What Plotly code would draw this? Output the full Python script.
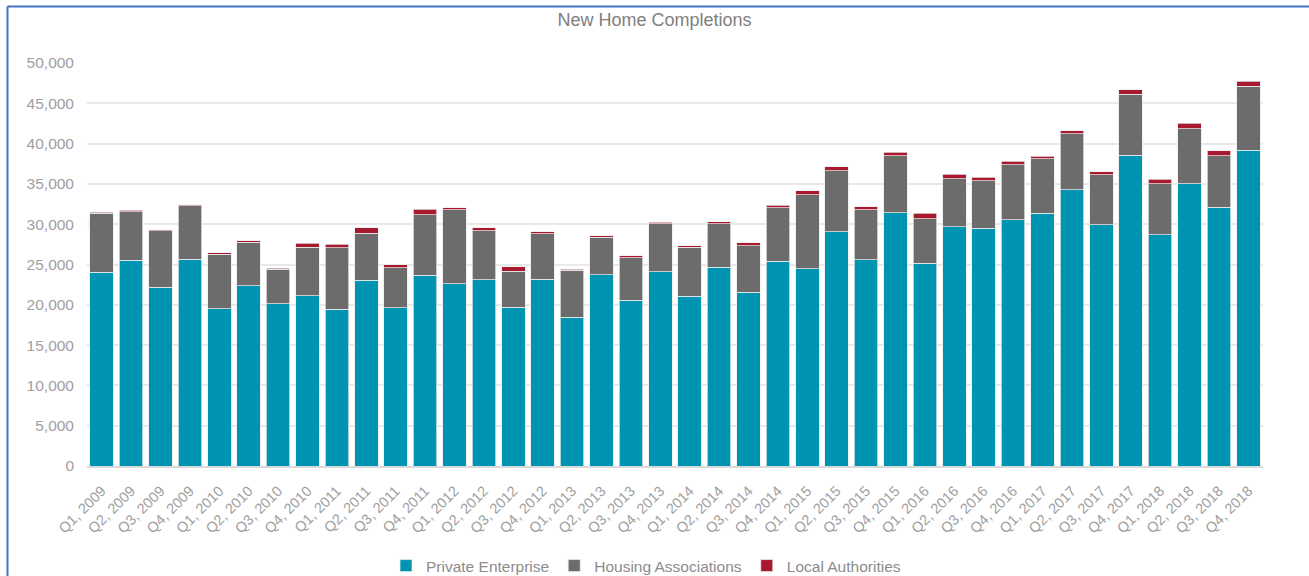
import plotly.graph_objects as go

quarters = [f"Q{q}, {y}" for y in range(2009, 2019) for q in range(1, 5)]

private_enterprise = [
    24030, 25520, 22160, 25640, 19510, 22370, 20130, 21130,
    19430, 23070, 19640, 23650, 22620, 23120, 19680, 23160,
    18430, 23700, 20590, 24110, 21090, 24650, 21580, 25390,
    24480, 29040, 25560, 31440, 25150, 29660, 29500, 30530,
    31360, 34300, 29910, 38530, 28670, 35050, 32100, 39150,
]
housing_associations = [
    7330, 6050, 7000, 6670, 6750, 5390, 4310, 6010,
    7660, 5800, 4970, 7500, 9200, 6090, 4510, 5670,
    5840, 4680, 5260, 5920, 6050, 5390, 5760, 6630,
    9200, 7620, 6250, 7040, 5550, 6010, 5880, 6840,
    6750, 6920, 6210, 7580, 6330, 6790, 6380, 7950,
]
local_authorities = [
    120, 170, 170, 120, 170, 210, 120, 500,
    410, 660, 370, 700, 250, 370, 540, 250,
    170, 170, 210, 210, 170, 290, 370, 330,
    460, 460, 330, 460, 660, 540, 460, 410,
    330, 370, 370, 580, 580, 660, 660, 620,
]

colors = {"Private Enterprise": "#0094B3", "Housing Associations": "#6B6C6B", "Local Authorities": "#A6192E"}
series = [
    ("Private Enterprise", private_enterprise),
    ("Housing Associations", housing_associations),
    ("Local Authorities", local_authorities),
]

fig = go.Figure()
for name, vals in series:
    fig.add_trace(go.Bar(
        x=quarters, y=vals, name=name,
        marker=dict(color=colors[name], line=dict(color="rgba(235,235,235,0.9)", width=0.8)),
    ))

font_family = "Liberation Sans, Arial, sans-serif"
fig.update_layout(
    barmode="stack",
    bargap=0.2,
    width=1309, height=576,
    margin=dict(l=87, r=46, t=63, b=110, autoexpand=False),
    paper_bgcolor="white", plot_bgcolor="white",
    font=dict(family=font_family, color="#a0a0a0"),
    title=dict(text="New Home Completions", x=0.5, xanchor="center",
               yref="container", y=(576 - 20) / 576, yanchor="middle",
               font=dict(size=18, color="#808080", family=font_family)),
    showlegend=True,
    legend=dict(orientation="h", xref="container", x=0.4935, xanchor="center",
                yref="container", y=(576 - 566) / 576, yanchor="middle",
                font=dict(size=15.5, color="#8c8c8c"), itemwidth=30, traceorder="normal"),
    xaxis=dict(tickangle=-45, tickfont=dict(size=14.5, color="#a0a0a0"), showgrid=False,
               showline=True, linecolor="#d9d9d9", linewidth=1.5, ticks="",
               ticklabelstandoff=9),
    yaxis=dict(range=[0, 50000], dtick=5000, tickformat=",d", tickfont=dict(size=15.5, color="#a0a0a0"),
               showgrid=True, gridcolor="#e8e8e8", gridwidth=1.5, zeroline=False, ticks="",
               ticklabelstandoff=12),
    shapes=[
        dict(type="line", xref="paper", yref="paper", x0=-0.0676, x1=1.05, y0=1.1404, y1=1.1404,
             line=dict(color="#4472C4", width=2)),
        dict(type="line", xref="paper", yref="paper", x0=-0.0676, x1=-0.0676, y0=1.1404, y1=-0.30,
             line=dict(color="#4472C4", width=2)),
    ],
)

fig.write_html("out.html", config={"displayModeBar": False},
               post_script="document.body.style.margin='0';")
